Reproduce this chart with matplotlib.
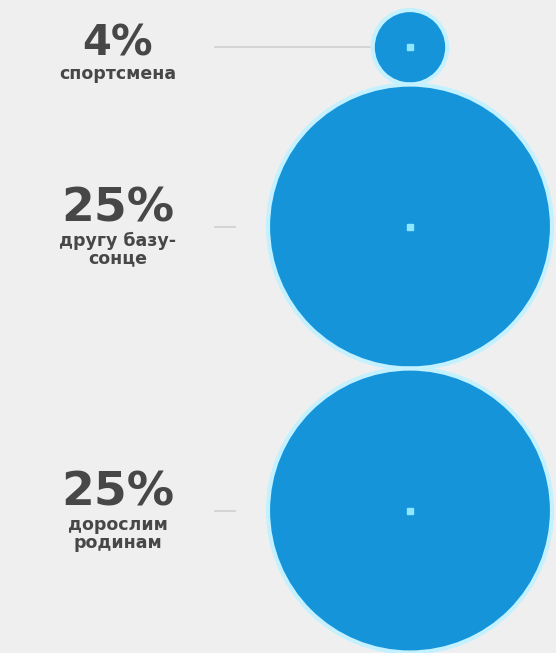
import numpy as np
import matplotlib.pyplot as plt
from matplotlib.patches import Circle

# values shown in the bubbles (percent)
values = [4, 25, 25]
value_labels = ['4%', '25%', '25%']
captions = ['спортсмена', 'другу базу-\nсонце', 'дорослим\nродинам']

W, H = 556, 653
fig = plt.figure(figsize=(W / 100, H / 100), dpi=100)
fig.patch.set_facecolor('#efefef')
ax = fig.add_axes([0, 0, 1, 1])
ax.set_xlim(0, W)
ax.set_ylim(H, 0)
ax.set_aspect('equal')
ax.axis('off')

# bubble radius scaled from value, bubbles stacked top to bottom
r_max = 142
radii = [r_max * (v / max(values)) ** 0.73 for v in values]
cx = 410
y = 10
for i, (v, r) in enumerate(zip(values, radii)):
    cy = y + r
    ax.add_patch(Circle((cx, cy), r, facecolor='#1694d9', edgecolor='#c4f1ff',
                        linewidth=3, zorder=2))
    ax.plot(cx, cy, marker='s', markersize=5, color='#8fe6ff', zorder=3)

    # label on the left
    if i == 0:
        big, ty, cap_y = 30, cy - 4, cy + 18
    else:
        big, ty, cap_y = 34, cy - 18, cy + 5
    ax.text(118, ty, value_labels[i], ha='center', va='center',
            fontsize=big, fontweight='heavy', color='#474747')
    ax.text(118, cap_y, captions[i], ha='center', va='top',
            fontsize=12.5, fontweight='heavy', color='#474747', linespacing=1.0)

    # connector line
    if i == 0:
        ax.plot([215, cx - r - 3], [cy, cy], color='#cfcfcf', lw=1.2, zorder=1)
    else:
        ax.plot([215, 235], [cy, cy], color='#cfcfcf', lw=1.2, zorder=1)
    y = cy + r

fig.savefig('out.png', dpi=100, facecolor=fig.get_facecolor())
